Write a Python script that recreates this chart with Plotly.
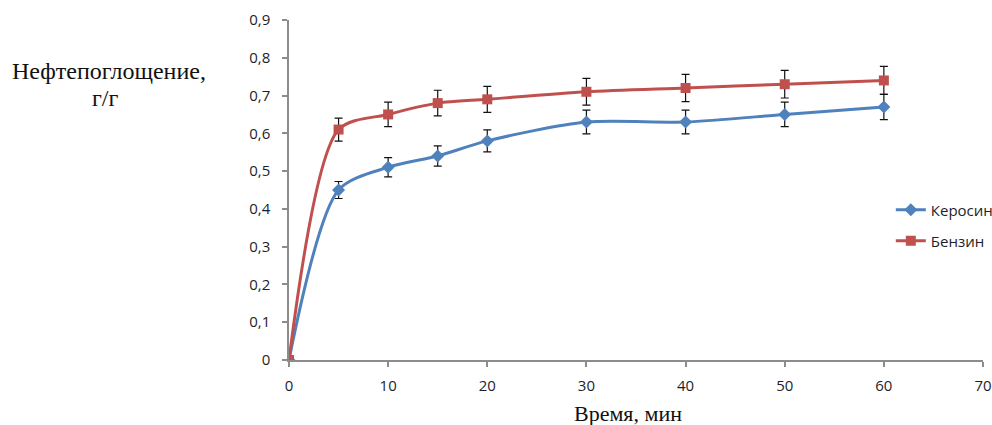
import plotly.graph_objects as go

# Sorption time, minutes
time_min = [0, 5, 10, 15, 20, 30, 40, 50, 60]
# Oil uptake, g/g
kerosene = [0, 0.45, 0.51, 0.54, 0.58, 0.63, 0.63, 0.65, 0.67]
gasoline = [0, 0.61, 0.65, 0.68, 0.69, 0.71, 0.72, 0.73, 0.74]
error_pct = 5

y_ticks = [0, 0.1, 0.2, 0.3, 0.4, 0.5, 0.6, 0.7, 0.8, 0.9]
y_tick_text = ["0", "0,1", "0,2", "0,3", "0,4", "0,5", "0,6", "0,7", "0,8", "0,9"]
x_ticks = [0, 10, 20, 30, 40, 50, 60, 70]

BLUE = "#4F81BD"
RED = "#C0504D"
sans = "Open Sans, Liberation Sans, sans-serif"
serif_family = "Liberation Serif, Times New Roman, serif"
tick_font = dict(family=sans, size=15, color="#1e1e2a")

fig = go.Figure()
fig.add_trace(go.Scatter(
    x=time_min, y=kerosene, name="Керосин", mode="lines+markers",
    line=dict(color=BLUE, width=3, shape="spline", smoothing=0.8),
    marker=dict(symbol="diamond", size=10, color=BLUE),
    error_y=dict(type="percent", value=error_pct, color="#111111", thickness=1.2, width=4),
    legend="legend",
))
fig.add_trace(go.Scatter(
    x=time_min, y=gasoline, name="Бензин", mode="lines+markers",
    line=dict(color=RED, width=3, shape="spline", smoothing=0.8),
    marker=dict(symbol="square", size=10, color=RED),
    error_y=dict(type="percent", value=error_pct, color="#111111", thickness=1.2, width=4),
    legend="legend2",
))

axis_common = dict(
    showgrid=False, zeroline=False, showline=True, linecolor="#8c8c8c", linewidth=1.5,
    ticks="outside", tickcolor="#8c8c8c", ticklen=5, tickwidth=1.5, tickfont=tick_font,
    automargin=False,
)

legend_common = dict(
    font=dict(family=sans, size=15, color="#1e1e2a"),
    bgcolor="rgba(0,0,0,0)", xref="container", yref="container",
    xanchor="left", yanchor="middle", itemwidth=30,
)

fig.update_layout(
    width=992, height=425,
    margin=dict(l=289, r=9, t=20, b=65, autoexpand=False),
    paper_bgcolor="white", plot_bgcolor="white",
    showlegend=True,
    xaxis=dict(range=[0, 70], tickvals=x_ticks, ticklabelstandoff=6, **axis_common),
    yaxis=dict(range=[0, 0.9], tickvals=y_ticks, ticktext=y_tick_text,
               ticklabelstandoff=9, **axis_common),
    legend=dict(x=0.898, y=0.506, **legend_common),
    legend2=dict(x=0.898, y=0.433, **legend_common),
    annotations=[
        dict(text="Нефтепоглощение,", xref="paper", yref="paper",
             x=-0.2594, y=0.85, xanchor="center", yanchor="middle", showarrow=False,
             font=dict(family=serif_family, size=24, color="#111111")),
        dict(text="г/г", xref="paper", yref="paper",
             x=-0.2637, y=0.772, xanchor="center", yanchor="middle", showarrow=False,
             font=dict(family=serif_family, size=24, color="#111111")),
        dict(text="Время, мин", xref="paper", yref="paper",
             x=0.4885, y=-0.156, xanchor="center", yanchor="middle", showarrow=False,
             font=dict(family=serif_family, size=22, color="#111111")),
    ],
)

fig.write_html("out.html")
